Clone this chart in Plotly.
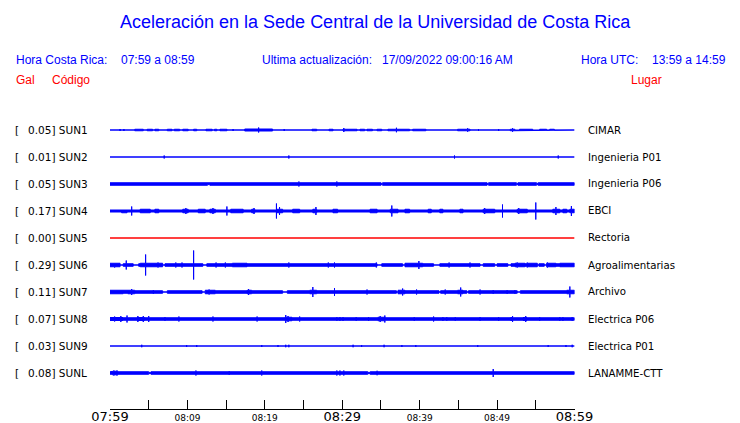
import plotly.graph_objects as go

# ---------------- data ----------------
codes = ["SUN1", "SUN2", "SUN3", "SUN4", "SUN5", "SUN6", "SUN7", "SUN8", "SUN9", "SUNL"]
peaks_gal = [0.05, 0.01, 0.05, 0.17, 0.00, 0.29, 0.11, 0.07, 0.03, 0.08]
places = ["CIMAR", "Ingenieria P01", "Ingenieria P06", "EBCI", "Rectoria",
          "Agroalimentarias", "Archivo", "Electrica P06", "Electrica P01", "LANAMME-CTT"]

tick_minutes = [0, 10, 20, 30, 40, 50, 60]
tick_labels = ["07:59", "08:09", "08:19", "08:29", "08:39", "08:49", "08:59"]
minor_minutes = [5, 15, 25, 35, 45, 55]

# background noise half-amplitude (Gal) per station
noise_gal = [0.0, 0.0, 0.025, 0.02, 0.0, 0.025, 0.025, 0.025, 0.0, 0.025]

# bursts: [start min, end min, half-amplitude Gal]
sun1_bursts = [[3.2, 4.3, 0.015], [4.8, 5.5, 0.015], [5.8, 6.3, 0.015], [7.4, 8.0, 0.015],
               [8.3, 9.0, 0.015], [9.4, 10.1, 0.015], [10.8, 11.2, 0.015], [12.4, 13.2, 0.015],
               [13.5, 13.8, 0.015], [14.2, 15.1, 0.015], [17.4, 21.0, 0.02], [26.1, 26.7, 0.015],
               [28.3, 28.8, 0.015], [30.1, 31.9, 0.015], [32.3, 32.9, 0.015], [33.2, 33.9, 0.015],
               [34.5, 35.1, 0.015], [35.9, 38.7, 0.015], [39.1, 40.8, 0.015], [44.9, 46.5, 0.015],
               [51.7, 52.3, 0.015], [52.9, 54.6, 0.015], [55.5, 56.4, 0.015], [56.8, 57.4, 0.015]]
sun1_spikes = [[1.3, 0.02], [1.8, 0.02], [15.9, 0.02], [19.2, 0.05], [22.5, 0.02], [30.2, 0.04],
               [37.0, 0.045], [46.2, 0.035], [47.6, 0.02], [50.2, 0.02], [52.0, 0.035]]

sun2_bursts = []
sun2_spikes = [[7.0, 0.03], [23.1, 0.03], [44.5, 0.03], [57.9, 0.03]]

sun3_bursts = [[12.6, 12.9, 0.012], [35.0, 35.2, 0.012], [48.7, 48.9, 0.012],
               [52.5, 52.7, 0.012], [55.1, 55.3, 0.012]]
sun3_spikes = [[24.4, 0.05], [29.3, 0.05]]

sun4_bursts = [[1.5, 2.2, 0.035], [3.9, 5.2, 0.035], [5.8, 6.3, 0.035], [9.4, 10.1, 0.035],
               [11.4, 12.3, 0.035], [12.9, 13.6, 0.035], [15.6, 17.2, 0.035], [18.3, 18.7, 0.035],
               [21.6, 22.3, 0.035], [23.6, 24.5, 0.035], [26.2, 26.7, 0.035], [28.8, 29.4, 0.035],
               [33.6, 34.5, 0.035], [36.2, 37.2, 0.035], [38.1, 38.7, 0.035], [41.1, 41.5, 0.035],
               [42.6, 43.0, 0.035], [45.2, 45.6, 0.035], [48.2, 49.7, 0.035], [52.6, 53.9, 0.035],
               [57.2, 58.1, 0.035], [58.5, 59.0, 0.035], [59.4, 60.0, 0.035]]
sun4_spikes = [[2.8, 0.09], [9.8, 0.06], [13.3, 0.06], [15.1, 0.09], [18.6, 0.06], [21.5, 0.15],
               [21.9, 0.08], [26.6, 0.08], [36.4, 0.11], [48.4, 0.06], [50.7, 0.13], [52.8, 0.06],
               [55.0, 0.17], [57.6, 0.08], [59.6, 0.1]]

sun5_bursts = []
sun5_spikes = []

sun6_bursts = [[0.0, 1.3, 0.035], [1.3, 1.7, 0.0], [3.0, 3.7, 0.0], [3.9, 6.8, 0.035],
               [6.8, 7.1, 0.0], [12.0, 12.5, 0.0], [15.8, 17.7, 0.035], [34.5, 35.1, 0.0],
               [37.8, 38.1, 0.0], [38.1, 40.4, 0.035], [41.8, 42.6, 0.0], [47.8, 48.2, 0.0],
               [49.7, 50.0, 0.0], [51.4, 51.8, 0.0], [52.3, 53.6, 0.035], [54.0, 55.2, 0.035],
               [55.2, 55.4, 0.0], [56.1, 56.4, 0.0], [56.4, 57.6, 0.035], [58.1, 60.0, 0.035]]
sun6_spikes = [[0.6, 0.05], [2.1, 0.09], [4.6, 0.21], [6.2, 0.05], [8.5, 0.05], [9.3, 0.05],
               [10.8, 0.29], [13.7, 0.05], [14.9, 0.05], [23.1, 0.05], [28.2, 0.05], [29.0, 0.05],
               [34.4, 0.05], [39.9, 0.08], [43.8, 0.05], [46.5, 0.05], [52.6, 0.05], [53.9, 0.05],
               [56.5, 0.05]]

sun7_bursts = [[0.0, 1.7, 0.035], [2.3, 3.2, 0.035], [6.8, 7.4, 0.0], [11.9, 12.3, 0.0],
               [12.3, 13.6, 0.035], [17.7, 18.3, 0.035], [22.3, 22.9, 0.0], [25.8, 26.7, 0.035],
               [37.0, 37.2, 0.0], [37.2, 38.1, 0.035], [42.5, 42.7, 0.0], [44.9, 45.6, 0.035],
               [46.1, 46.3, 0.0], [52.6, 53.0, 0.0], [59.0, 60.0, 0.035]]
sun7_spikes = [[2.8, 0.06], [5.6, 0.04], [12.8, 0.05], [17.9, 0.06], [26.2, 0.1], [29.0, 0.08],
               [33.2, 0.05], [37.8, 0.07], [39.6, 0.05], [43.3, 0.05], [45.3, 0.09], [47.8, 0.05],
               [49.5, 0.04], [51.3, 0.04], [52.3, 0.04], [59.4, 0.11]]

sun8_bursts = [[0.0, 1.7, 0.03], [3.5, 4.5, 0.03], [22.6, 23.5, 0.035], [34.6, 35.5, 0.035],
               [51.7, 52.1, 0.03], [53.3, 53.9, 0.03]]
sun8_spikes = [[0.6, 0.05], [1.4, 0.06], [2.2, 0.07], [3.6, 0.06], [4.3, 0.06], [5.0, 0.06],
               [7.1, 0.04], [8.9, 0.05], [13.3, 0.05], [19.0, 0.05], [22.7, 0.08], [23.0, 0.06],
               [24.5, 0.05], [29.3, 0.04], [29.7, 0.04], [30.1, 0.04], [31.8, 0.04], [33.4, 0.04],
               [34.9, 0.06], [35.5, 0.07], [39.3, 0.04], [41.8, 0.05], [43.0, 0.04], [43.5, 0.04],
               [44.6, 0.04], [47.8, 0.04], [50.2, 0.04], [52.0, 0.06], [53.7, 0.06], [55.5, 0.04],
               [58.1, 0.04], [58.5, 0.04], [59.7, 0.04]]

sun9_bursts = []
sun9_spikes = [[4.1, 0.025], [9.9, 0.02], [11.2, 0.02], [19.6, 0.02], [21.7, 0.02], [22.7, 0.025],
               [23.1, 0.025], [31.4, 0.025], [32.5, 0.02], [35.4, 0.025], [37.7, 0.02],
               [39.5, 0.02], [47.5, 0.02], [56.6, 0.02], [58.9, 0.02], [59.7, 0.025]]

sunl_bursts = [[0.3, 1.0, 0.035], [5.0, 5.3, 0.012], [33.3, 33.6, 0.012]]
sunl_spikes = [[0.5, 0.05], [0.9, 0.05], [11.1, 0.05], [15.4, 0.04], [19.6, 0.05], [29.3, 0.05],
               [29.7, 0.05], [30.2, 0.05], [34.5, 0.045], [49.5, 0.08]]

bursts = [sun1_bursts, sun2_bursts, sun3_bursts, sun4_bursts, sun5_bursts,
          sun6_bursts, sun7_bursts, sun8_bursts, sun9_bursts, sunl_bursts]
spikes = [sun1_spikes, sun2_spikes, sun3_spikes, sun4_spikes, sun5_spikes,
          sun6_spikes, sun7_spikes, sun8_spikes, sun9_spikes, sunl_spikes]

# ---------------- styling / layout constants ----------------
W, H = 740, 423
BLUE = "#0000ff"
RED = "#ff0000"
ROW_GAL = 0.54          # vertical spacing between traces, in Gal
Y_TOP = 2.6             # y value at top edge of figure
Y_SPAN = 8.46           # Gal visible over the full figure height
TITLE_FONT = "Liberation Sans, Arial, sans-serif"
LABEL_FONT = "DejaVu Sans, sans-serif"
T_END = tick_minutes[-1]


def envelope(base, segs, spk):
    segs = sorted(segs)

    def env(t):
        for t0, t1, a in segs:
            if t0 <= t < t1:
                return a
        return base

    edges = sorted(set([0.0, float(T_END)] + [s[0] for s in segs] + [s[1] for s in segs]))
    xs, ys = [], []
    for a_, b_ in zip(edges[:-1], edges[1:]):
        v = env((a_ + b_) / 2)
        xs.append(a_)
        ys.append(v)
        for t, amp in sorted(spk):
            if a_ <= t < b_:
                xs += [t, t, t]
                ys += [v, max(amp, v), v]
        xs.append(b_)
        ys.append(v)
    return xs, ys


fig = go.Figure()
for i, code in enumerate(codes):
    center = -ROW_GAL * i
    xs, ys = envelope(noise_gal[i], bursts[i], spikes[i])
    px = xs + xs[::-1]
    py = [center + y for y in ys] + [center - y for y in ys[::-1]]
    col = RED if peaks_gal[i] == 0 else BLUE
    fig.add_trace(go.Scatter(x=px, y=py, mode="lines", fill="toself", fillcolor=col,
                             line=dict(color=col, width=1), hoverinfo="skip",
                             showlegend=False))

ticktext = [lab if k % 3 == 0 else f'<span style="font-size:9px">{lab}</span>'
            for k, lab in enumerate(tick_labels)]

annotations = []


def ann(text, x, y, size, color, font, xanchor="left"):
    annotations.append(dict(text=text, x=x / W, y=1 - y / H, xref="paper", yref="paper",
                            xanchor=xanchor, yanchor="middle", showarrow=False,
                            font=dict(size=size, color=color, family=font)))


ann("Aceleración en la Sede Central de la Universidad de Costa Rica", 375.5, 22, 18, BLUE,
    TITLE_FONT, "center")
ann("Hora Costa Rica:", 14, 60, 12, BLUE, TITLE_FONT)
ann("07:59 a 08:59", 119, 60, 12, BLUE, TITLE_FONT)
ann("Ultima actualización:", 260, 60, 12, BLUE, TITLE_FONT)
ann("17/09/2022 09:00:16 AM", 380, 60, 12, BLUE, TITLE_FONT)
ann("Hora UTC:", 579, 60, 12, BLUE, TITLE_FONT)
ann("13:59 a 14:59", 650, 60, 12, BLUE, TITLE_FONT)
ann("Gal", 14, 80, 12, RED, TITLE_FONT)
ann("Código", 50, 80, 12, RED, TITLE_FONT)
ann("Lugar", 629, 80, 12, RED, TITLE_FONT)

for i, code in enumerate(codes):
    yc = (Y_TOP + ROW_GAL * i) / Y_SPAN * H
    ann("[", 13, yc, 10.5, "black", LABEL_FONT)
    ann(f"{peaks_gal[i]:.2f}] {code}", 25.5, yc, 10.5, "black", LABEL_FONT)
    ann(places[i], 585.5, yc, 10.2, "black", LABEL_FONT)

fig.update_layout(
    width=W, height=H,
    margin=dict(l=0, r=0, t=0, b=0, autoexpand=False),
    paper_bgcolor="white", plot_bgcolor="white",
    showlegend=False,
    annotations=annotations,
    xaxis=dict(domain=[110 / W, 574.5 / W], range=[0, T_END], anchor="free",
               position=(H - 409) / H, showline=True, linecolor="black", linewidth=1,
               ticks="inside", ticklen=9, tickcolor="black", tickwidth=1,
               tickvals=tick_minutes, ticktext=ticktext, ticklabelstandoff=-5,
               tickfont=dict(family=LABEL_FONT, size=13, color="black"),
               minor=dict(tickvals=minor_minutes, ticks="inside", ticklen=9,
                          tickcolor="black", tickwidth=1),
               showgrid=False, zeroline=False, fixedrange=True),
    yaxis=dict(domain=[0, 1], range=[Y_TOP - Y_SPAN, Y_TOP], visible=False,
               showgrid=False, zeroline=False, fixedrange=True),
)

fig.write_html("out.html", config={"displayModeBar": False},
               post_script="document.body.style.margin='0';document.body.style.overflow='hidden';")
